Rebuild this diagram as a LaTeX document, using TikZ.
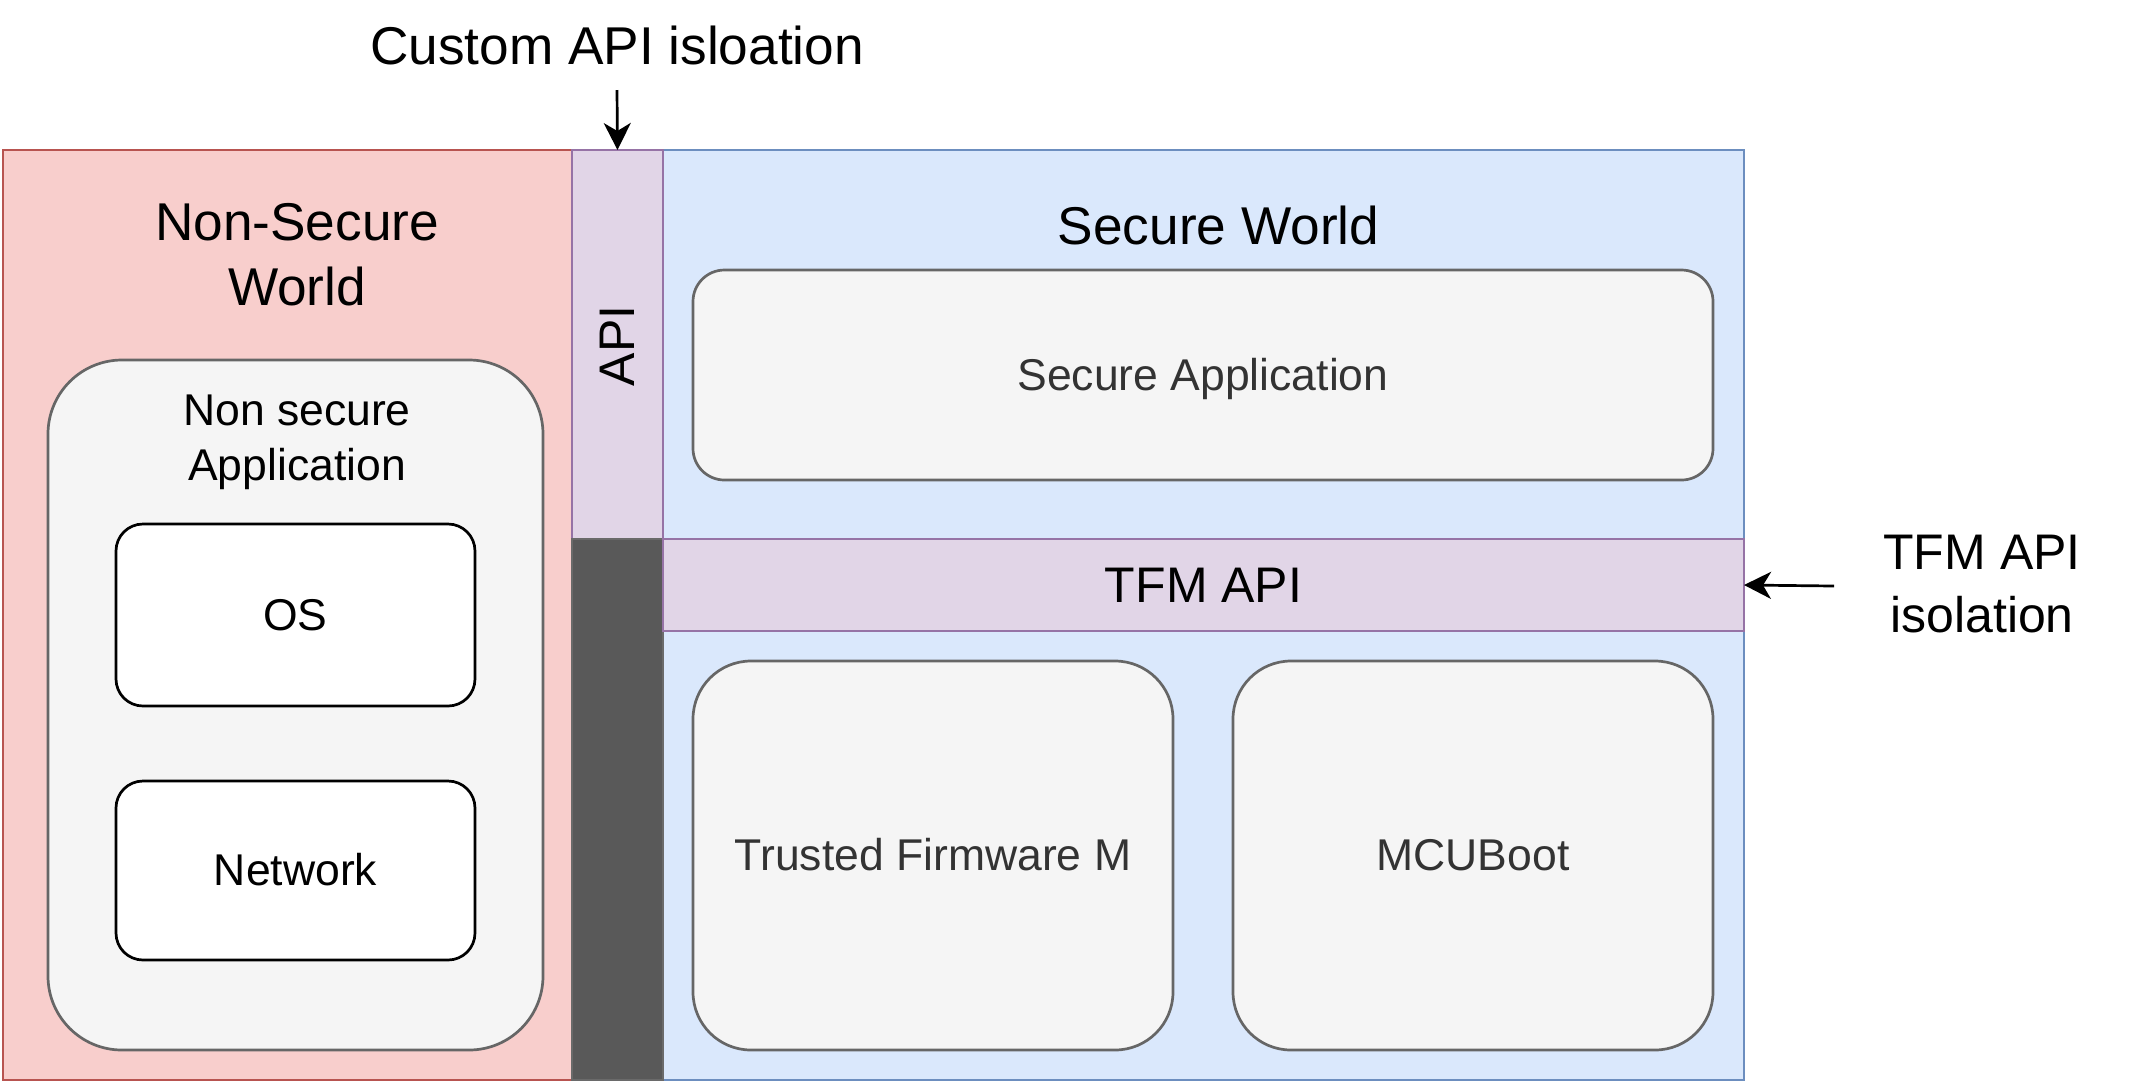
\documentclass[tikz,border=0pt]{standalone}
\usepackage{fontspec}
\setmainfont{Liberation Sans}
\usetikzlibrary{arrows.meta}
\definecolor{pinkF}{HTML}{F8CECC}
\definecolor{pinkD}{HTML}{B85450}
\definecolor{blueF}{HTML}{DAE8FC}
\definecolor{blueD}{HTML}{6C8EBF}
\definecolor{purpF}{HTML}{E1D5E7}
\definecolor{purpD}{HTML}{9673A6}
\definecolor{greyF}{HTML}{F5F5F5}
\definecolor{greyD}{HTML}{666666}
\definecolor{greyT}{HTML}{333333}
\definecolor{darkF}{HTML}{595959}
\newcommand{\fsBig}{\fontsize{26.6pt}{32.5pt}\selectfont}
\newcommand{\fsMid}{\fontsize{25pt}{31.5pt}\selectfont}
\newcommand{\fsSml}{\fontsize{22.25pt}{27.25pt}\selectfont}
\tikzset{
  box/.style={draw, line width=1.35pt, inner sep=0pt, outer sep=0pt},
  worldNS/.style={box, fill=pinkF, draw=pinkD},
  worldS/.style={box, fill=blueF, draw=blueD},
  apibox/.style={box, fill=purpF, draw=purpD},
  darkbox/.style={box, fill=darkF, draw=darkF!90!white},
  greybox/.style={box, fill=greyF, draw=greyD, text=greyT, font=\fsSml, text height=20pt, text depth=5pt},
  whitebox/.style={box, fill=white, draw=black, text=black, font=\fsSml, text height=20pt, text depth=5pt},
  lbl/.style={inner sep=0pt, outer sep=0pt, align=center, text=black},
  arr/.style={line width=1.35pt, -{Stealth[length=13.5pt, width=13.5pt, inset=4pt]}}
}
\begin{document}
\begin{tikzpicture}[x=0.5pt, y=-0.5pt]
\useasboundingbox (0,0) rectangle (2136,1084);
% worlds
\node[worldNS, minimum width=569*0.5pt, minimum height=930*0.5pt] (ns) at (287.5,615) {};
\node[worldS, minimum width=1081*0.5pt, minimum height=930*0.5pt] (sw) at (1203.5,615) {};
\node[apibox, minimum width=91*0.5pt, minimum height=389*0.5pt] (api) at (617.5,344.5) {};
\node[darkbox, minimum width=91*0.5pt, minimum height=541*0.5pt] (dark) at (617.5,809.5) {};
\node[apibox, minimum width=1081*0.5pt, minimum height=92*0.5pt, font=\fsMid, text height=22.5pt, text depth=5pt] (tfmapi) at (1203.5,585) {TFM API};
% secure boxes
\node[greybox, rounded corners=31.5*0.5pt, minimum width=1020*0.5pt, minimum height=210*0.5pt] (secapp) at (1203,375) {Secure Application};
\node[greybox, rounded corners=58*0.5pt, minimum width=480*0.5pt, minimum height=389*0.5pt] (tfm) at (933,855.5) {Trusted Firmware M};
\node[greybox, rounded corners=58*0.5pt, minimum width=480*0.5pt, minimum height=389*0.5pt] (mcu) at (1473,855.5) {MCUBoot};
% non secure boxes
\node[greybox, rounded corners=74*0.5pt, minimum width=495*0.5pt, minimum height=690*0.5pt] (nsapp) at (295.5,705) {};
\node[whitebox, rounded corners=27*0.5pt, minimum width=359*0.5pt, minimum height=182*0.5pt] (os) at (295.5,615) {OS};
\node[whitebox, rounded corners=27*0.5pt, minimum width=359*0.5pt, minimum height=179*0.5pt] (net) at (295.5,870.5) {Network};
% titles
\node[lbl, font=\fsBig] (nstitle) at (297,254.5) {Non-Secure\\World};
\node[lbl, font=\fsBig] (swtitle) at (1218.5,225) {Secure World};
\node[lbl, font=\fsSml] (nsapptitle) at (297,442.5) {Non secure\\Application};
\node[lbl, font=\fsMid, rotate=90] (apitxt) at (617.5,346) {API};
\node[lbl, font=\fsBig] (custom) at (617,45) {Custom API isloation};
\node[lbl, font=\fsMid] (tfmiso) at (1982,584.5) {TFM API\\isolation};
% arrows
\coordinate (c1) at (617,90);
\coordinate (c2) at (1834,586);
\draw[arr] (c1) -- (api.north);
\draw[arr] (c2) -- (tfmapi.east);
\end{tikzpicture}
\end{document}
